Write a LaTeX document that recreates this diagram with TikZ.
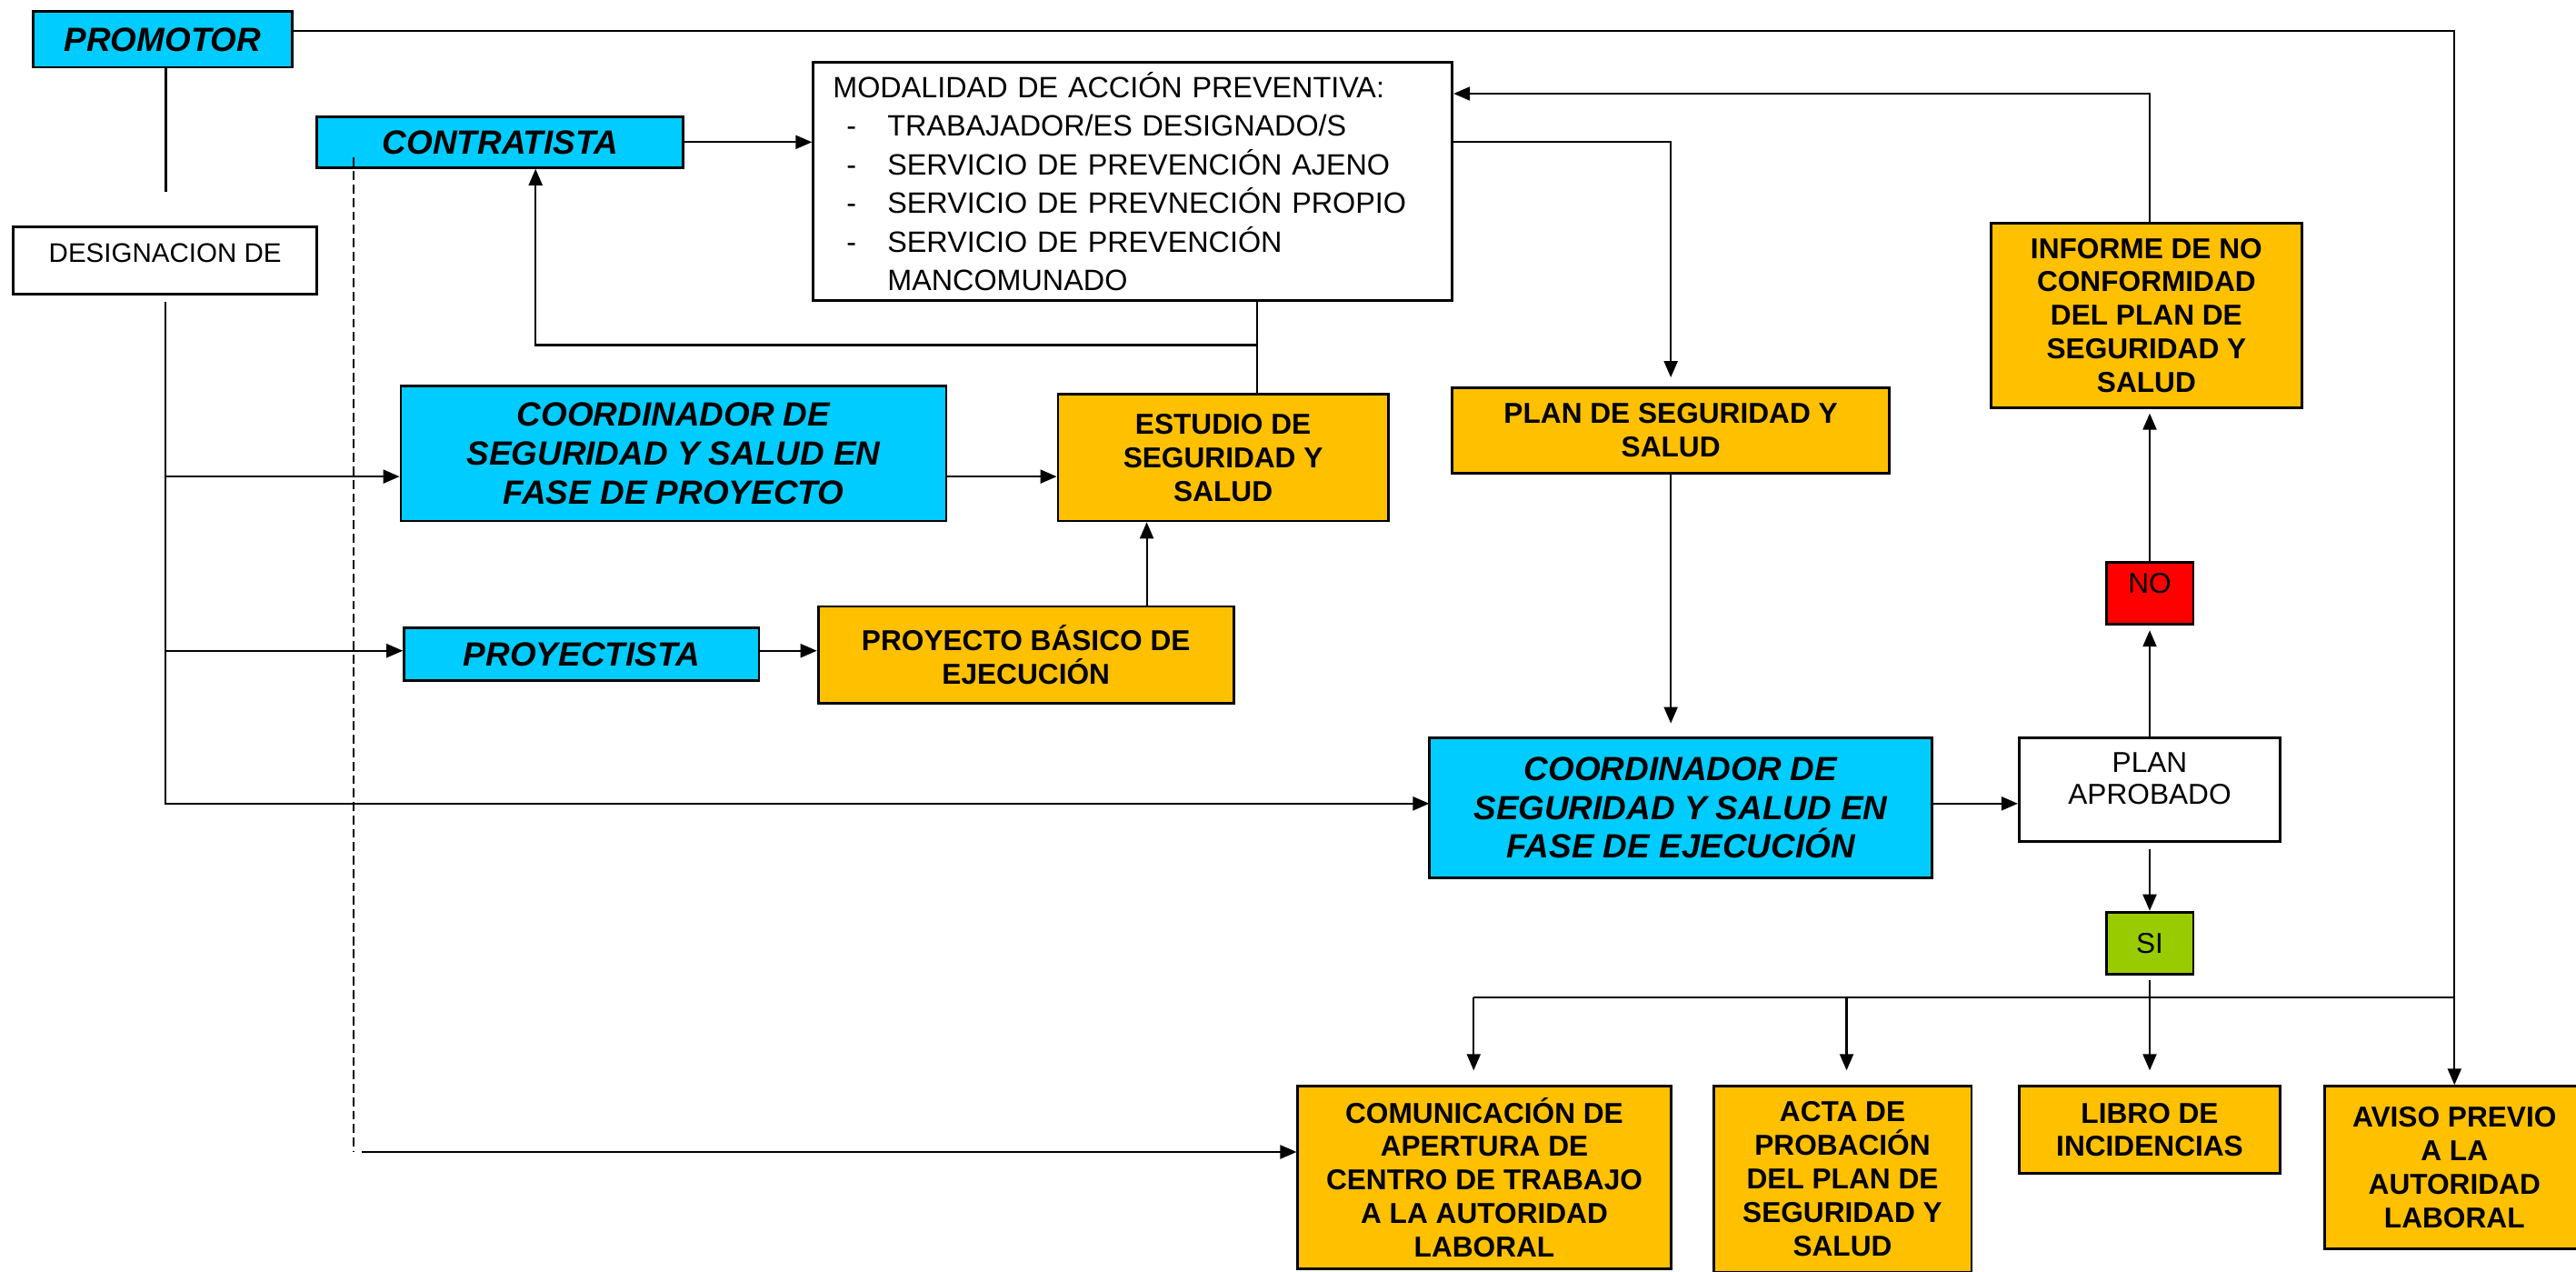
\documentclass[tikz,border=0pt]{standalone}
\usepackage{fontspec}
\setmainfont{Liberation Sans}
\usetikzlibrary{arrows.meta,calc}
\definecolor{cy}{HTML}{00CCFF}
\definecolor{og}{HTML}{FFC000}
\definecolor{rd}{HTML}{FF0000}
\definecolor{gr}{HTML}{99CC00}
\newcommand\modalitem{\makebox[6mm][l]{\hspace*{1.5mm}-}}
\begin{document}
\begin{tikzpicture}[x=0.18074mm, y=-0.18074mm,
 sz/.style 2 args={minimum width={#1*0.18074mm}, minimum height={#2*0.18074mm}},
 base/.style={draw=black, line width=0.8pt, rectangle, inner sep=1pt, align=center, text=black},
 bluebox/.style={base, fill=cy, font=\fontsize{10.5}{12.2}\selectfont\bfseries\itshape},
 orangebox/.style={base, fill=og, font=\fontsize{9}{10.5}\selectfont\bfseries},
 plainbox/.style={base, fill=white, font=\fontsize{9}{10}\selectfont},
 conn/.style={line width=0.6pt, draw=black},
 arr/.style={conn, -{Triangle[length=1.8mm,width=1.5mm]}},
]
\useasboundingbox (0,0) rectangle (1568,774);
% nodes
\node[bluebox, sz={158}{34}] (promotor) at (99,24) {PROMOTOR};
\node[plainbox, sz={185}{41}, font=\fontsize{8.4}{10}\selectfont] (desig) at (100.5,158.5) {DESIGNACION DE\\[-5.4pt]\mbox{}};
\node[bluebox, sz={223}{31}] (contratista) at (304.5,86.5) {CONTRATISTA};
\node[plainbox, sz={389}{145}, align=left, text width={365*0.18074mm}, inner xsep={12*0.18074mm},
      font=\fontsize{9.2}{12.1}\selectfont] (modal) at (689.5,110.5)
 {MODALIDAD DE ACCIÓN PREVENTIVA:\\
  \modalitem TRABAJADOR/ES DESIGNADO/S\\
  \modalitem SERVICIO DE PREVENCIÓN AJENO\\
  \modalitem SERVICIO DE PREVNECIÓN PROPIO\\
  \modalitem SERVICIO DE PREVENCIÓN\\
  \hspace*{6mm}MANCOMUNADO};
\node[bluebox, sz={332}{82}] (cproy) at (410,276) {COORDINADOR DE\\SEGURIDAD Y SALUD EN\\FASE DE PROYECTO};
\node[orangebox, sz={201}{77}] (estudio) at (744.5,278.5) {ESTUDIO DE\\SEGURIDAD Y\\SALUD};
\node[bluebox, sz={216}{32}] (proyectista) at (354,398) {PROYECTISTA};
\node[orangebox, sz={253}{59}] (basico) at (624.5,398.5) {PROYECTO BÁSICO DE\\EJECUCIÓN};
\node[orangebox, sz={266}{52}] (plan) at (1017,262) {PLAN DE SEGURIDAD Y\\SALUD};
\node[orangebox, sz={189}{112}] (informe) at (1306.5,192) {INFORME DE NO\\CONFORMIDAD\\DEL PLAN DE\\SEGURIDAD Y\\SALUD};
\node[plainbox, fill=rd, sz={53}{38}] (no) at (1308.5,361) {NO\\[-3.8pt]\mbox{}};
\node[bluebox, sz={306}{85}] (cejec) at (1023,491.5) {COORDINADOR DE\\SEGURIDAD Y SALUD EN\\FASE DE EJECUCIÓN};
\node[plainbox, sz={159}{63}] (aprob) at (1308.5,480.5) {PLAN\\APROBADO\\[-2.8pt]\mbox{}};
\node[plainbox, fill=gr, sz={53}{38}] (si) at (1308.5,574) {SI};
\node[orangebox, sz={227}{111}] (comunic) at (903.5,716.5) {COMUNICACIÓN DE\\APERTURA DE\\CENTRO DE TRABAJO\\A LA AUTORIDAD\\LABORAL};
\node[orangebox, sz={157}{113}] (acta) at (1121.5,717.5) {ACTA DE\\PROBACIÓN\\DEL PLAN DE\\SEGURIDAD Y\\SALUD};
\node[orangebox, sz={159}{53}] (libro) at (1308.5,687.5) {LIBRO DE\\INCIDENCIAS};
\node[orangebox, sz={158}{99}] (aviso) at (1494,710.5) {AVISO PREVIO\\A LA\\AUTORIDAD\\LABORAL};
% connectors
\coordinate (pc) at (1494,19);
\draw[arr] (promotor.east |- pc) -- (pc) -- (aviso.north);
\coordinate (bl) at (897,607);
\coordinate (br) at (1494,607);
\draw[conn] (bl) -- (br);
\draw[arr, shorten >=1.6mm] (bl) -- (bl |- comunic.north);
\coordinate (ba) at (1124,607);
\draw[arr, shorten >=1.6mm] (ba) -- (ba |- acta.north);
\draw[arr, shorten <=0.5mm, shorten >=1.6mm] (si.south) -- (libro.north);
\coordinate (sp) at (101,117);
\draw[conn] (sp |- promotor.south) -- (sp);
\coordinate (e0) at (870,489);
\draw[arr, shorten <=0.7mm] (desig.south) |- (e0);
\coordinate (b1) at (101,290);
\draw[arr] (b1) -- (b1 -| cproy.west);
\draw[arr] (cproy.east |- b1) -- (estudio.west |- b1);
\coordinate (b2) at (101,396);
\draw[arr] (b2) -- (b2 -| proyectista.west);
\draw[arr] (proyectista.east |- b2) -- (basico.west |- b2);
\coordinate (x1) at (698,369);
\draw[arr] (x1 |- basico.north) -- (x1 |- estudio.south);
\draw[arr] (contratista.east) -- (contratista.east -| modal.west);
\coordinate (m1) at (765,210);
\draw[conn] (m1 |- modal.south) -- (m1 |- estudio.north);
\coordinate (c1) at (326,210);
\draw[arr] (m1) -- (c1) -- (c1 |- contratista.south);
\draw[arr, shorten >=1mm] (modal.east |- contratista.east) -| (plan.north);
\draw[arr, shorten >=1.45mm] (plan.south) -- (plan.south |- cejec.north);
\coordinate (e1) at (1176,489);
\draw[arr] (cejec.east |- e1) -- (aprob.west |- e1);
\draw[arr, shorten >=0.5mm] (aprob.north) -- (no.south);
\draw[arr, shorten >=0.5mm] (no.north) -- (no.north |- informe.south);
\coordinate (r1) at (1308.5,57);
\draw[arr] (no.north |- informe.north) -- (r1) -- (r1 -| modal.east);
\draw[arr, shorten <=0.7mm] (aprob.south) -- (si.north);
\coordinate (d1) at (215,96);
\coordinate (d2) at (215,701);
\coordinate (d3) at (220,701);
\draw[conn, dash pattern=on 2.8pt off 1.4pt] (d1) -- (d2);
\draw[arr] (d3) -- (d3 -| comunic.west);
\end{tikzpicture}
\end{document}
